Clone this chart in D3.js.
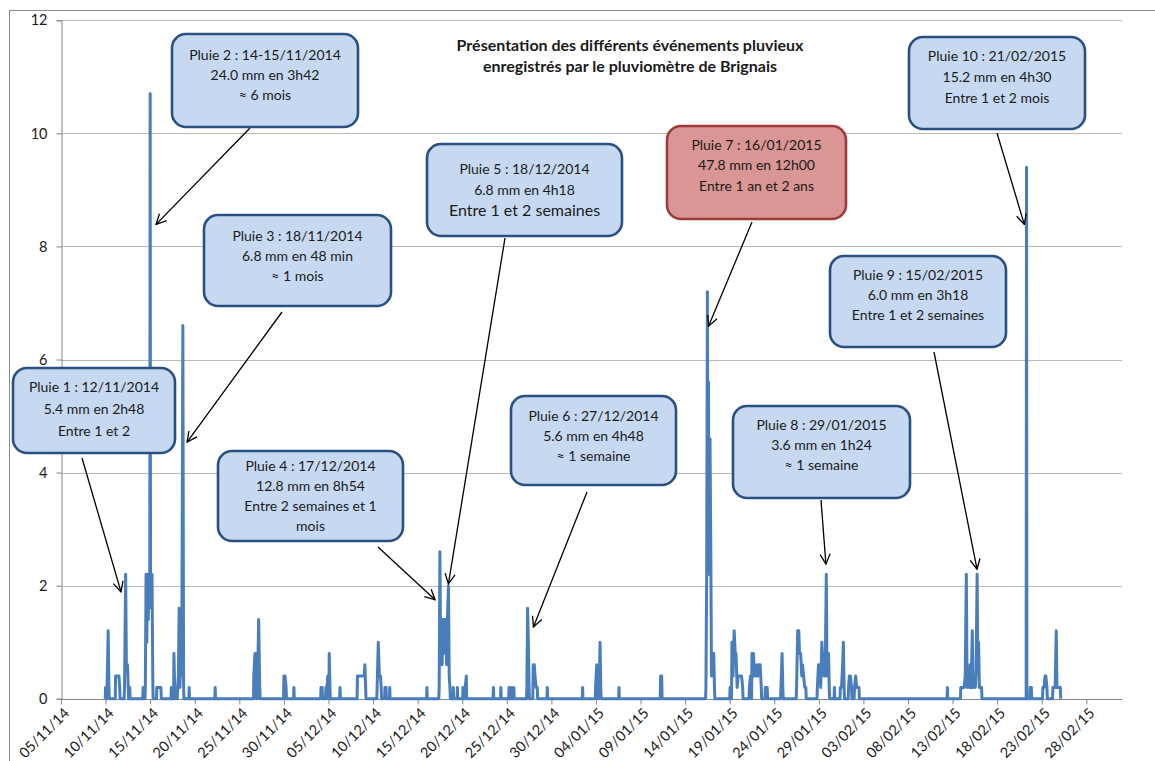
<!DOCTYPE html>
<html>
<head>
<meta charset="utf-8">
<script src="https://cdn.jsdelivr.net/npm/d3@7/dist/d3.min.js"></script>
<style>
  html, body { margin: 0; padding: 0; background: #fff; }
  svg { display: block; font-family: Lato, "Open Sans", sans-serif; }
</style>
</head>
<body>
<svg id="chart" width="1155" height="761"></svg>
<script>
// ---------- DATA ----------
const titleLines = ["Présentation des différents événements pluvieux", "enregistrés par le pluviomètre de Brignais"];

const yTicks = [0, 2, 4, 6, 8, 10, 12];
const xTickLabels = ["05/11/14","10/11/14","15/11/14","20/11/14","25/11/14","30/11/14","05/12/14","10/12/14",
  "15/12/14","20/12/14","25/12/14","30/12/14","04/01/15","09/01/15","14/01/15","19/01/15","24/01/15",
  "29/01/15","03/02/15","08/02/15","13/02/15","18/02/15","23/02/15","28/02/15"];

// rain gauge readings (mm), non-zero records only
const rainNov = [
  ["2014-11-10 00:00",0.2],["2014-11-10 04:00",0.2],["2014-11-10 07:00",1.2],["2014-11-10 09:00",0.2],
  ["2014-11-11 03:00",0.4],["2014-11-11 06:00",0.4],["2014-11-11 09:00",0.4],["2014-11-11 12:00",0.4],["2014-11-11 14:00",0.2],
  ["2014-11-12 03:00",0.2],["2014-11-12 06:00",2.2],["2014-11-12 08:00",0.6],["2014-11-12 11:00",0.6],["2014-11-12 13:00",0.2],["2014-11-12 17:00",0.2],
  ["2014-11-14 05:00",0.2],["2014-11-14 11:00",0.2],["2014-11-14 13:00",2.2],["2014-11-14 15:00",1.0],["2014-11-14 17:00",2.2],
  ["2014-11-14 19:00",1.4],["2014-11-14 21:00",2.2],["2014-11-14 23:00",2.2],["2014-11-15 00:00",10.7],["2014-11-15 01:00",2.2],
  ["2014-11-15 03:00",1.6],["2014-11-15 05:00",2.2],["2014-11-15 07:00",0.4],
  ["2014-11-15 18:00",0.2],["2014-11-15 21:00",0.2],["2014-11-16 00:00",0.2],["2014-11-16 03:00",0.2],["2014-11-16 05:00",0.2],
  ["2014-11-17 09:00",0.2],["2014-11-17 16:00",0.8],["2014-11-17 18:00",0.2],["2014-11-18 02:00",0.2],["2014-11-18 04:00",0.4],
  ["2014-11-18 06:00",1.6],["2014-11-18 08:00",0.2],["2014-11-18 11:00",0.8],["2014-11-18 13:00",0.4],["2014-11-18 16:00",6.6],
  ["2014-11-18 18:00",0.2],["2014-11-19 09:00",0.2],
  ["2014-11-22 07:00",0.2],
  ["2014-11-26 15:00",0.4],["2014-11-26 18:00",0.8],["2014-11-26 21:00",0.8],["2014-11-27 01:00",0.2],["2014-11-27 04:00",1.4],["2014-11-27 07:00",0.2],
  ["2014-11-30 00:00",0.4],["2014-11-30 03:00",0.4],["2014-11-30 06:00",0.2]
];
const rainDec = [
  ["2014-12-01 03:00",0.2],
  ["2014-12-04 04:00",0.2],["2014-12-04 07:00",0.2],["2014-12-04 17:00",0.2],["2014-12-04 20:00",0.2],["2014-12-04 22:00",0.4],
  ["2014-12-05 02:00",0.8],["2014-12-05 04:00",0.2],
  ["2014-12-06 07:00",0.2],
  ["2014-12-08 06:00",0.4],["2014-12-08 09:00",0.4],["2014-12-08 12:00",0.4],["2014-12-08 15:00",0.4],["2014-12-08 18:00",0.4],
  ["2014-12-08 21:00",0.4],["2014-12-09 00:00",0.4],["2014-12-09 02:00",0.6],["2014-12-09 04:00",0.2],
  ["2014-12-10 11:00",0.2],["2014-12-10 14:00",1.0],["2014-12-10 17:00",0.4],["2014-12-10 20:00",0.4],["2014-12-10 22:00",0.2],
  ["2014-12-11 08:00",0.2],["2014-12-11 11:00",0.2],["2014-12-11 21:00",0.2],
  ["2014-12-16 01:00",0.2],
  ["2014-12-17 10:00",0.2],["2014-12-17 12:00",2.6],["2014-12-17 14:00",0.6],["2014-12-17 16:00",1.4],["2014-12-17 18:00",0.6],
  ["2014-12-17 20:00",1.4],["2014-12-17 22:00",0.8],["2014-12-18 00:00",1.4],["2014-12-18 02:00",1.2],["2014-12-18 04:00",1.4],
  ["2014-12-18 06:00",0.6],["2014-12-18 08:00",1.4],["2014-12-18 11:00",2.0],["2014-12-18 13:00",0.4],["2014-12-18 15:00",0.2],
  ["2014-12-19 00:00",0.2],["2014-12-19 11:00",0.2],["2014-12-20 02:00",0.2],["2014-12-20 08:00",0.2],["2014-12-20 11:00",0.4],
  ["2014-12-23 12:00",0.2],["2014-12-24 08:00",0.2],
  ["2014-12-25 06:00",0.2],["2014-12-25 13:00",0.2],["2014-12-25 19:00",0.2],
  ["2014-12-27 06:00",0.2],["2014-12-27 08:00",1.6],["2014-12-27 10:00",1.0],["2014-12-27 12:00",0.2],["2014-12-27 23:00",0.6],
  ["2014-12-28 02:00",0.6],["2014-12-28 04:00",0.4],["2014-12-28 07:00",0.2],["2014-12-28 10:00",0.2],
  ["2014-12-29 13:00",0.2]
];
const rainJan = [
  ["2015-01-02 12:00",0.2],
  ["2015-01-03 23:00",0.2],["2015-01-04 02:00",0.6],["2015-01-04 05:00",0.2],["2015-01-04 09:00",0.2],["2015-01-04 11:00",1.0],["2015-01-04 13:00",0.2],
  ["2015-01-06 14:00",0.2],
  ["2015-01-11 06:00",0.4],["2015-01-11 09:00",0.4],
  ["2015-01-16 08:00",0.2],["2015-01-16 10:00",2.2],["2015-01-16 12:00",7.2],["2015-01-16 13:00",2.6],["2015-01-16 15:00",5.6],
  ["2015-01-16 16:00",2.2],["2015-01-16 19:00",4.6],["2015-01-16 21:00",2.8],["2015-01-16 23:00",0.4],["2015-01-17 02:00",0.8],
  ["2015-01-17 05:00",0.8],["2015-01-17 07:00",0.2],
  ["2015-01-19 01:00",0.2],["2015-01-19 06:00",1.0],["2015-01-19 09:00",0.4],["2015-01-19 12:00",1.2],["2015-01-19 15:00",0.8],
  ["2015-01-19 17:00",0.8],["2015-01-19 20:00",0.2],["2015-01-19 23:00",0.4],["2015-01-20 02:00",0.4],["2015-01-20 05:00",0.4],
  ["2015-01-20 08:00",0.4],["2015-01-20 11:00",0.2],
  ["2015-01-21 05:00",0.2],["2015-01-21 08:00",0.4],["2015-01-21 12:00",0.8],["2015-01-21 14:00",0.4],["2015-01-21 16:00",0.8],
  ["2015-01-21 19:00",0.4],["2015-01-21 22:00",0.4],["2015-01-22 01:00",0.6],["2015-01-22 04:00",0.4],["2015-01-22 07:00",0.6],
  ["2015-01-22 10:00",0.6],["2015-01-22 13:00",0.2],
  ["2015-01-23 00:00",0.2],["2015-01-23 03:00",0.2],["2015-01-23 05:00",0.2],
  ["2015-01-24 18:00",0.2],["2015-01-24 21:00",0.8],["2015-01-24 23:00",0.2],
  ["2015-01-26 12:00",0.2],["2015-01-26 15:00",1.2],["2015-01-26 18:00",1.2],["2015-01-26 20:00",0.8],["2015-01-26 23:00",0.8],
  ["2015-01-27 02:00",0.4],["2015-01-27 04:00",0.6],["2015-01-27 07:00",0.4],["2015-01-27 10:00",0.2],["2015-01-27 13:00",0.2],
  ["2015-01-28 20:00",0.2],["2015-01-28 23:00",0.6],["2015-01-29 02:00",0.6],["2015-01-29 05:00",0.2],["2015-01-29 08:00",1.0],
  ["2015-01-29 11:00",0.6],["2015-01-29 14:00",0.4],["2015-01-29 17:00",0.4],["2015-01-29 20:00",2.2],["2015-01-29 22:00",0.4],
  ["2015-01-30 00:00",0.8],["2015-01-30 02:00",0.8],["2015-01-30 04:00",0.2],
  ["2015-01-30 18:00",0.2],
  ["2015-01-31 10:00",0.2],["2015-01-31 13:00",0.2],["2015-01-31 16:00",0.6],["2015-01-31 18:00",1.0],["2015-01-31 20:00",0.2]
];
const rainFeb = [
  ["2015-02-01 08:00",0.2],["2015-02-01 10:00",0.4],["2015-02-01 13:00",0.4],["2015-02-01 16:00",0.2],
  ["2015-02-02 00:00",0.2],["2015-02-02 03:00",0.4],["2015-02-02 06:00",0.2],["2015-02-02 09:00",0.2],["2015-02-02 12:00",0.2],
  ["2015-02-12 10:00",0.2],
  ["2015-02-13 22:00",0.2],["2015-02-14 01:00",0.2],["2015-02-14 04:00",0.2],["2015-02-14 07:00",0.2],["2015-02-14 10:00",0.4],
  ["2015-02-14 13:00",2.2],["2015-02-14 15:00",0.2],["2015-02-14 18:00",0.4],["2015-02-14 21:00",0.2],["2015-02-14 23:00",0.6],
  ["2015-02-15 02:00",0.2],["2015-02-15 05:00",1.2],["2015-02-15 07:00",0.2],["2015-02-15 10:00",0.4],["2015-02-15 13:00",0.2],
  ["2015-02-15 15:00",0.4],["2015-02-15 18:00",2.2],["2015-02-15 20:00",0.6],["2015-02-15 22:00",1.0],["2015-02-16 00:00",0.2],
  ["2015-02-16 03:00",0.2],["2015-02-16 06:00",0.2],
  ["2015-02-21 07:00",9.4],
  ["2015-02-21 17:00",0.2],["2015-02-21 20:00",0.2],
  ["2015-02-23 03:00",0.2],["2015-02-23 06:00",0.2],["2015-02-23 09:00",0.4],["2015-02-23 11:00",0.4],["2015-02-23 14:00",0.2],
  ["2015-02-24 06:00",0.2],["2015-02-24 09:00",0.2],["2015-02-24 12:00",0.2],["2015-02-24 15:00",1.2],["2015-02-24 17:00",0.2],
  ["2015-02-24 20:00",0.2],["2015-02-24 23:00",0.2],["2015-02-25 02:00",0.2]
];

// annotation texts and the point each arrow targets (date, mm)
const eventLabels = [
  ["Pluie 1 : 12/11/2014", "5.4 mm en 2h48", "Entre 1 et 2"],
  ["Pluie 2 : 14-15/11/2014", "24.0 mm en 3h42", "\u2248 6 mois"],
  ["Pluie 3 : 18/11/2014", "6.8 mm en 48 min", "\u2248 1 mois"],
  ["Pluie 4 : 17/12/2014", "12.8 mm en 8h54", "Entre 2 semaines et 1", "mois"],
  ["Pluie 5 : 18/12/2014", "6.8 mm en 4h18", "Entre 1 et 2 semaines"],
  ["Pluie 6 : 27/12/2014", "5.6 mm en 4h48", "\u2248 1 semaine"],
  ["Pluie 7 : 16/01/2015", "47.8 mm en 12h00", "Entre 1 an et 2 ans"],
  ["Pluie 8 : 29/01/2015", "3.6 mm en 1h24", "\u2248 1 semaine"],
  ["Pluie 9 : 15/02/2015", "6.0 mm en 3h18", "Entre 1 et 2 semaines"],
  ["Pluie 10 : 21/02/2015", "15.2 mm en 4h30", "Entre 1 et 2 mois"]
];
const eventTargets = [
  ["2014-11-11 17:30", 1.89], ["2014-11-15 15:50", 8.39], ["2014-11-19 03:20", 4.54],
  ["2014-12-16 23:00", 1.75], ["2014-12-18 10:50", 2.03], ["2014-12-27 23:45", 1.27],
  ["2015-01-16 15:00", 6.59], ["2015-01-29 19:00", 2.38], ["2015-02-15 17:45", 2.29],
  ["2015-02-21 01:00", 8.39]
];

// ---------- LAYOUT ----------
const W = 1155, H = 761;
const plot = { left: 61, right: 1122, top: 20.3, bottom: 698.7 };
const boxLayout = [
  { x: 13,  y: 368, w: 162, h: 85, ls: 22, off: -1, from: [82, 458] },
  { x: 172, y: 34,  w: 186, h: 93, ls: 20, off: -5, from: [250, 128] },
  { x: 204, y: 215, w: 187, h: 91, ls: 20, off: -4, from: [282, 312] },
  { x: 218, y: 451, w: 185, h: 90, ls: 20, off: 0,  from: [378, 547] },
  { x: 427, y: 144, w: 195, h: 92, ls: 20.5, off: 0, from: [505, 238], big3: true },
  { x: 511, y: 396, w: 165, h: 89, ls: 20, off: -4, from: [587, 492] },
  { x: 667, y: 126, w: 179, h: 93, ls: 20.5, off: -7, from: [752, 222], red: true },
  { x: 733, y: 406, w: 177, h: 92, ls: 20, off: -7, from: [821, 500] },
  { x: 830, y: 256, w: 176, h: 91, ls: 20, off: -6, from: [934, 352] },
  { x: 909, y: 37,  w: 176, h: 92, ls: 21, off: -6, from: [997, 133] }
];

const parseT = d3.utcParse("%Y-%m-%d %H:%M");
const parseTick = d3.utcParse("%d/%m/%y");

const svg = d3.select("#chart");

const x = d3.scaleUtc()
  .domain([parseTick("05/11/14"), parseTick("04/03/15")])
  .range([plot.left, plot.right]);
const y = d3.scaleLinear().domain([0, 12]).range([plot.bottom, plot.top]);

// outer chart-area border
svg.append("rect").attr("x", 9.5).attr("y", 10.5).attr("width", W).attr("height", H)
  .attr("fill", "#fff").attr("stroke", "#8a8a8a").attr("stroke-width", 1);

// gridlines
svg.append("g").selectAll("line").data(yTicks.filter(v => v > 0)).join("line")
  .attr("x1", plot.left).attr("x2", plot.right)
  .attr("y1", d => Math.round(y(d)) + 0.5).attr("y2", d => Math.round(y(d)) + 0.5)
  .attr("stroke", "#b9b9b9").attr("stroke-width", 1);

// y axis
const yAxis = d3.axisLeft(y).tickValues(yTicks).tickSize(5).tickPadding(9).tickFormat(d3.format("d"));
const gy = svg.append("g").attr("transform", `translate(${plot.left + 0.5},0)`).call(yAxis);
gy.select(".domain").attr("stroke", "#868686");
gy.selectAll(".tick line").attr("stroke", "#868686");
gy.selectAll(".tick text").attr("font-family", "Lato").attr("font-size", 14.5).attr("fill", "#1a1a1a");

// x axis
const xTickDates = xTickLabels.map(parseTick);
const xAxis = d3.axisBottom(x).tickValues(xTickDates).tickSize(5)
  .tickFormat((d, i) => xTickLabels[i]);
const gx = svg.append("g").attr("transform", `translate(0,${Math.round(plot.bottom) + 0.5})`).call(xAxis);
gx.select(".domain").attr("stroke", "#868686").attr("d", `M${plot.left},0H${plot.right}`);
gx.selectAll(".tick line").attr("stroke", "#868686");
gx.selectAll(".tick text")
  .attr("font-family", "Lato").attr("font-size", 14.5).attr("fill", "#1a1a1a")
  .attr("text-anchor", "end")
  .attr("transform", "translate(5,11) rotate(-45)")
  .attr("x", 0).attr("y", 0).attr("dy", "0.35em");

// build the rain series: non-zero readings with dry (zero) spells around them
const readings = [...rainNov, ...rainDec, ...rainJan, ...rainFeb]
  .map(([t, v]) => ({ t: parseT(t), v }))
  .sort((a, b) => a.t - b.t);
const HOUR = 3600 * 1000, LINK = 3 * HOUR;
const series = [];
readings.forEach((r, i) => {
  const prev = readings[i - 1];
  if (!prev || r.t - prev.t > LINK) {
    if (prev) series.push({ t: new Date(+prev.t + HOUR), v: 0 });
    series.push({ t: new Date(+r.t - HOUR), v: 0 });
  }
  series.push(r);
});
series.push({ t: new Date(+readings[readings.length - 1].t + HOUR), v: 0 });

const line = d3.line().x(d => x(d.t)).y(d => y(d.v));
svg.append("path").datum(series)
  .attr("d", line)
  .attr("fill", "none")
  .attr("stroke", "#4a7ebb")
  .attr("stroke-width", 3)
  .attr("stroke-linejoin", "round");

// title
svg.append("g").selectAll("text").data(titleLines).join("text")
  .attr("x", 630).attr("y", (d, i) => 51 + i * 21)
  .attr("text-anchor", "middle")
  .attr("font-family", "Lato").attr("font-weight", "bold").attr("font-size", 16)
  .attr("fill", "#1a1a1a")
  .text(d => d);

// arrow marker
svg.append("defs").append("marker")
  .attr("id", "arrowhead").attr("viewBox", "0 0 12 12")
  .attr("refX", 11).attr("refY", 6)
  .attr("markerWidth", 12).attr("markerHeight", 12)
  .attr("markerUnits", "userSpaceOnUse")
  .attr("orient", "auto")
  .append("path").attr("d", "M1,1 L11,6 L1,11")
  .attr("fill", "none").attr("stroke", "#000").attr("stroke-width", 1.3);

// arrows
svg.append("g").selectAll("line").data(boxLayout).join("line")
  .attr("x1", d => d.from[0]).attr("y1", d => d.from[1])
  .attr("x2", (d, i) => x(parseT(eventTargets[i][0])))
  .attr("y2", (d, i) => y(eventTargets[i][1]))
  .attr("stroke", "#000").attr("stroke-width", 1.3)
  .attr("marker-end", "url(#arrowhead)");

// callout boxes
const boxes = svg.append("g").selectAll("g").data(boxLayout).join("g");
boxes.append("rect")
  .attr("x", d => d.x).attr("y", d => d.y).attr("width", d => d.w).attr("height", d => d.h)
  .attr("rx", 14).attr("ry", 14)
  .attr("fill", d => d.red ? "#d99694" : "#c6d9f1")
  .attr("stroke", d => d.red ? "#a0393a" : "#2a5082")
  .attr("stroke-width", 2.6);
boxes.each(function (d, i) {
  const lines = eventLabels[i];
  const n = lines.length;
  const cy = d.y + d.h / 2 + d.off;
  d3.select(this).selectAll("text").data(lines).join("text")
    .attr("x", d.x + d.w / 2)
    .attr("y", (t, j) => cy + (j - (n - 1) / 2) * d.ls)
    .attr("dy", "0.35em")
    .attr("text-anchor", "middle")
    .attr("font-family", "Lato")
    .attr("font-size", (t, j) => (d.big3 && j === 2) ? 16 : 14)
    .attr("fill", "#1a1a1a")
    .text(t => t);
});
</script>
</body>
</html>
